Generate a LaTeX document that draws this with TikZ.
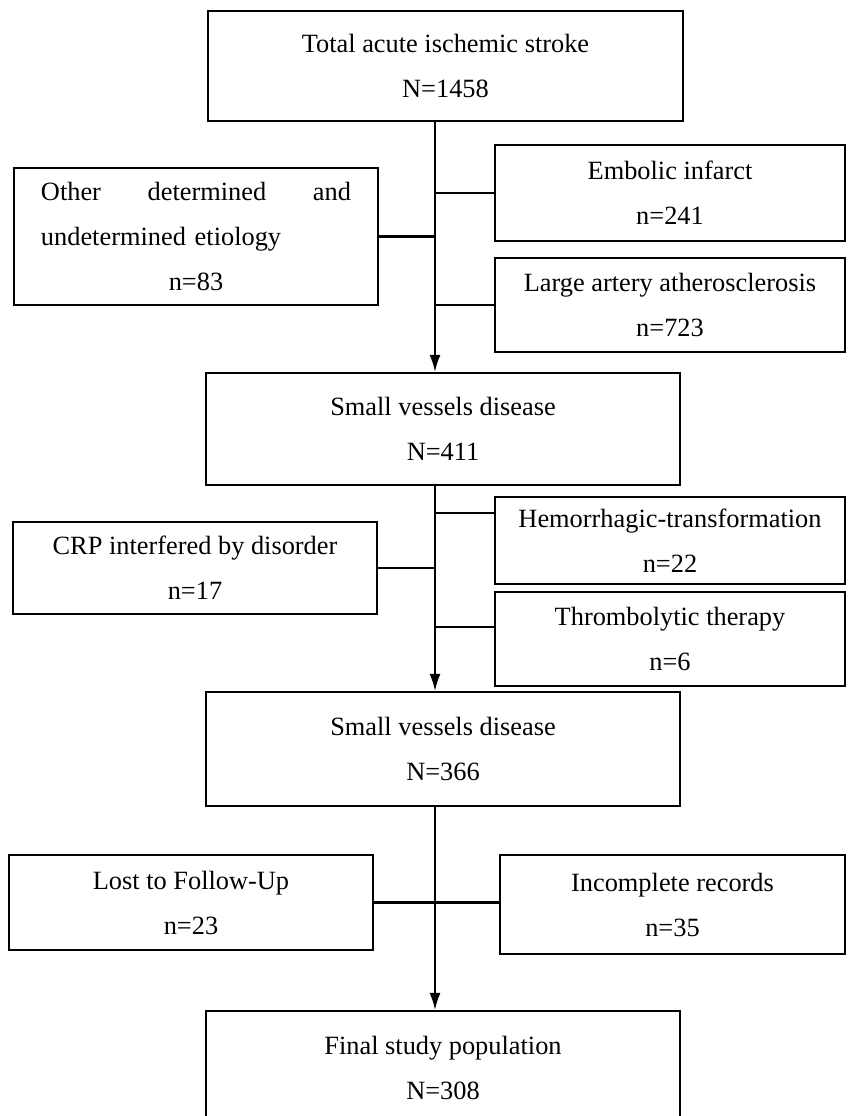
\documentclass[tikz,border=0pt]{standalone}
\usepackage{fontspec}
\setmainfont{Liberation Serif}
\usetikzlibrary{arrows.meta}
\begin{document}
\begin{tikzpicture}
    [
    x=0.2mm, y=-0.2mm,
    stage/.style={draw,line width=1.3pt,rectangle,minimum width=9.48cm,align=center,font=\fontsize{15}{25.6}\selectfont},
    excl/.style={draw,line width=1.3pt,rectangle,minimum width=7cm,align=center,font=\fontsize{15}{25.6}\selectfont},
    link/.style={line width=1.3pt},
    flow/.style={line width=1pt,-{Latex[length=3.4mm,width=2.2mm]}}
    ]
    \useasboundingbox (0,0) rectangle (847,1116);
    \coordinate (spine) at (435,0);
    \node (total) at (445.5,66) [stage,minimum width=9.5cm,minimum height=2.2cm] {Total acute ischemic stroke\\N=1458};
    \node (other) at (196,236.5) [excl,minimum width=7.28cm,minimum height=2.74cm,text width=6.2cm,align=left] {Other\hfill determined\hfill and\\undetermined etiology\\\makebox[6.2cm]{n=83}};
    \node (emb) at (670,193) [excl,minimum height=1.92cm] {Embolic infarct\\n=241};
    \node (large) at (670,305) [excl,minimum height=1.88cm] {Large artery atherosclerosis\\n=723};
    \node (svd1) at (443,429) [stage,minimum height=2.24cm] {Small vessels disease\\N=411};
    \node (crp) at (195,568) [excl,minimum width=7.28cm,minimum height=1.84cm] {CRP interfered by disorder\\n=17};
    \node (hem) at (670,540.5) [excl,minimum height=1.74cm] {Hemorrhagic-transformation\\n=22};
    \node (thr) at (670,639) [excl,minimum height=1.88cm] {Thrombolytic therapy\\n=6};
    \node (svd2) at (443,749) [stage,minimum height=2.28cm] {Small vessels disease\\N=366};
    \node (lost) at (191,902.5) [excl,minimum width=7.28cm,minimum height=1.9cm] {Lost to Follow-Up\\n=23};
    \node (inc) at (672.5,904.5) [excl,minimum width=6.9cm,minimum height=1.98cm] {Incomplete records\\n=35};
    \node (final) at (443,1068) [stage,minimum height=2.28cm] {Final study population\\N=308};
    \coordinate (hemj) at (435,513);
    \coordinate (thrj) at (435,627);
    \draw [flow] (total.south -| spine) to (svd1.north -| spine);
    \draw [link] (other.east) to (other.east -| spine);
    \draw [link] (emb.west) to (emb.west -| spine);
    \draw [link] (large.west) to (large.west -| spine);
    \draw [flow] (svd1.south -| spine) to (svd2.north -| spine);
    \draw [link] (crp.east) to (crp.east -| spine);
    \draw [link] (hemj) to (hemj -| hem.west);
    \draw [link] (thrj) to (thrj -| thr.west);
    \draw [flow] (svd2.south -| spine) to (final.north -| spine);
    \draw [link] (lost.east) to (lost.east -| inc.west);
  \end{tikzpicture}
\end{document}
